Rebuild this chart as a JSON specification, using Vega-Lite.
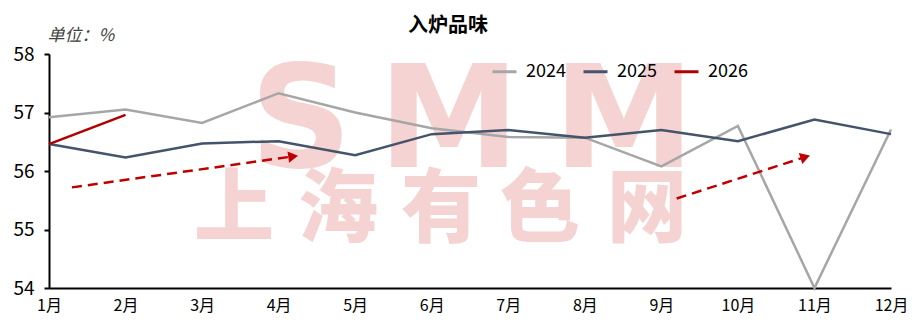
{
  "$schema": "https://vega.github.io/schema/vega-lite/v6.json",
  "width": 842,
  "height": 234,
  "autosize": {"type": "none"},
  "padding": {"left": 49, "top": 54, "right": 27, "bottom": 42},
  "background": "white",
  "config": {"font": "Noto Sans CJK SC", "view": {"stroke": null}},
  "title": {"text": "入炉品味", "fontSize": 20, "fontWeight": "bold", "color": "#000000", "anchor": "middle", "frame": "group", "dx": -22, "dy": 32, "offset": 22},
  "datasets": {
    "series": [
      {"year": "2024", "month": 1, "value": 56.92},
      {"year": "2024", "month": 2, "value": 57.05},
      {"year": "2024", "month": 3, "value": 56.82},
      {"year": "2024", "month": 4, "value": 57.33},
      {"year": "2024", "month": 5, "value": 57.0},
      {"year": "2024", "month": 6, "value": 56.73},
      {"year": "2024", "month": 7, "value": 56.58},
      {"year": "2024", "month": 8, "value": 56.57},
      {"year": "2024", "month": 9, "value": 56.08},
      {"year": "2024", "month": 10, "value": 56.77},
      {"year": "2024", "month": 11, "value": 54.0},
      {"year": "2024", "month": 12, "value": 56.71},
      {"year": "2025", "month": 1, "value": 56.46},
      {"year": "2025", "month": 2, "value": 56.23},
      {"year": "2025", "month": 3, "value": 56.47},
      {"year": "2025", "month": 4, "value": 56.51},
      {"year": "2025", "month": 5, "value": 56.27},
      {"year": "2025", "month": 6, "value": 56.63},
      {"year": "2025", "month": 7, "value": 56.7},
      {"year": "2025", "month": 8, "value": 56.57},
      {"year": "2025", "month": 9, "value": 56.7},
      {"year": "2025", "month": 10, "value": 56.51},
      {"year": "2025", "month": 11, "value": 56.88},
      {"year": "2025", "month": 12, "value": 56.63},
      {"year": "2026", "month": 1, "value": 56.46},
      {"year": "2026", "month": 2, "value": 56.96}
    ],
    "arrows": [
      {"arrow": 1, "pos": "start", "month": 1.3, "value": 55.72},
      {"arrow": 1, "pos": "end", "month": 4.19, "value": 56.25},
      {"arrow": 2, "pos": "start", "month": 9.2, "value": 55.53},
      {"arrow": 2, "pos": "end", "month": 10.88, "value": 56.24}
    ],
    "wm_latin": [
      {"text": "S", "month": 4.29, "value": 56.065},
      {"text": "M", "month": 6.225, "value": 56.065},
      {"text": "M", "month": 8.51, "value": 56.065}
    ],
    "wm_cjk": [
      {"text": "上", "month": 3.417, "value": 55.31},
      {"text": "海", "month": 4.775, "value": 55.31},
      {"text": "有", "month": 6.121, "value": 55.31},
      {"text": "色", "month": 7.414, "value": 55.31},
      {"text": "网", "month": 8.812, "value": 55.31}
    ]
  },
  "encoding": {
    "x": {
      "field": "month",
      "type": "quantitative",
      "scale": {"domain": [1, 12], "nice": false, "zero": false},
      "axis": {
        "values": [1, 2, 3, 4, 5, 6, 7, 8, 9, 10, 11, 12],
        "labelExpr": "datum.value + '月'",
        "ticks": false,
        "grid": false,
        "domainColor": "#000000",
        "domainWidth": 2,
        "labelFontSize": 16,
        "labelColor": "#000000",
        "labelPadding": 9,
        "labelFlush": false,
        "labelOverlap": false,
        "title": null
      }
    },
    "y": {
      "field": "value",
      "type": "quantitative",
      "scale": {"domain": [54, 58], "nice": false, "zero": false},
      "axis": {
        "values": [54, 55, 56, 57, 58],
        "grid": false,
        "tickSize": 5,
        "tickColor": "#000000",
        "tickWidth": 2,
        "domainColor": "#000000",
        "domainWidth": 2,
        "labelFontSize": 19,
        "labelColor": "#000000",
        "labelPadding": 10,
        "title": "单位：%",
        "titleAngle": 0,
        "titleAlign": "left",
        "titleBaseline": "middle",
        "titleX": -2,
        "titleY": -19,
        "titleFontSize": 17,
        "titleFontStyle": "italic",
        "titleFontWeight": "normal",
        "titleColor": "#404040"
      }
    }
  },
  "layer": [
    {
      "data": {"name": "wm_latin"},
      "mark": {"type": "text", "font": "DejaVu Sans", "fontWeight": "bold", "fontSize": 142, "color": "#f6d3d3", "align": "center", "baseline": "alphabetic"},
      "encoding": {"text": {"field": "text"}}
    },
    {
      "data": {"name": "wm_cjk"},
      "mark": {"type": "text", "font": "Noto Sans CJK SC", "fontWeight": 900, "fontSize": 80, "color": "#f6d3d3", "align": "center", "baseline": "middle"},
      "encoding": {"text": {"field": "text"}}
    },
    {
      "data": {"name": "series"},
      "mark": {"type": "line", "strokeWidth": 2.5},
      "encoding": {
        "color": {
          "field": "year",
          "type": "nominal",
          "scale": {"domain": ["2024", "2025", "2026"], "range": ["#a6a6a6", "#44546a", "#b00000"]},
          "legend": {
            "orient": "none",
            "legendX": 442,
            "legendY": 4,
            "direction": "horizontal",
            "title": null,
            "padding": 0,
            "symbolType": "stroke",
            "symbolStrokeWidth": 3,
            "symbolSize": 576,
            "labelFontSize": 18,
            "labelColor": "#000000",
            "labelOffset": 8,
            "columnPadding": 11
          }
        }
      }
    },
    {
      "data": {"name": "arrows"},
      "mark": {"type": "line", "strokeWidth": 2.5, "strokeDash": [10, 6], "color": "#c00000"},
      "encoding": {"detail": {"field": "arrow"}}
    },
    {
      "data": {"name": "arrows"},
      "transform": [{"filter": "datum.arrow == 1 && datum.pos == 'end'"}],
      "mark": {"type": "point", "shape": "triangle-right", "filled": true, "size": 130, "angle": -8, "color": "#c00000", "opacity": 1}
    },
    {
      "data": {"name": "arrows"},
      "transform": [{"filter": "datum.arrow == 2 && datum.pos == 'end'"}],
      "mark": {"type": "point", "shape": "triangle-right", "filled": true, "size": 130, "angle": -18, "color": "#c00000", "opacity": 1}
    }
  ]
}
